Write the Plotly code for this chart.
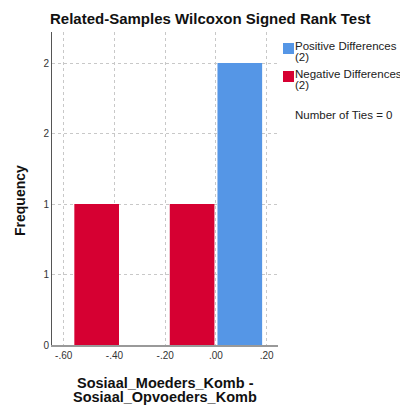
import plotly.graph_objects as go

# histogram bins (centres) and counts
pos_x = [0.094]
pos_y = [2]
neg_x = [-0.47, -0.094]
neg_y = [1, 1]
bin_width = 0.176

x_ticks = [-0.6, -0.4, -0.2, 0.0, 0.2]
x_ticklabels = ["-.60", "-.40", "-.20", ".00", ".20"]
y_ticks = [0, 0.5, 1, 1.5, 2]
y_ticklabels = ["0", "1", "1", "2", "2"]

# the page puts the figure 8px in from the top-left corner of the window
OFF = 8
W, H = 408 - OFF, 405 - OFF
L, R, T, B = 52 - OFF, 408 - 278, 32 - OFF, 405 - 345
FONT = "Arial, Liberation Sans, sans-serif"
BLUE = "#5596e6"
RED = "#d60032"


# window pixel -> paper coordinate
def px_x(p):
    return (p - OFF - L) / (W - L - R)


def px_y(p):
    return (H - B - (p - OFF)) / (H - T - B)


fig = go.Figure()
fig.add_trace(go.Bar(x=pos_x, y=pos_y, width=bin_width, marker=dict(color=BLUE, line_width=0),
                     name="Positive Differences"))
fig.add_trace(go.Bar(x=neg_x, y=neg_y, width=bin_width, marker=dict(color=RED, line_width=0),
                     name="Negative Differences"))

grid = dict(showgrid=True, gridcolor="#c8c8c8", griddash="3px,3px", gridwidth=1)

fig.update_layout(
    width=W, height=H,
    margin=dict(l=L, r=R, t=T, b=B, autoexpand=False),
    plot_bgcolor="white", paper_bgcolor="white",
    showlegend=False,
    font=dict(family=FONT, color="#333333", size=11),
    xaxis=dict(range=[-0.646, 0.2445], tickvals=x_ticks, ticktext=x_ticklabels,
               zeroline=False, showline=True, linecolor="#999999", linewidth=2,
               ticks="", tickfont=dict(size=10, color="#333333"), **grid),
    yaxis=dict(range=[0, 2.22], tickvals=y_ticks, ticktext=y_ticklabels,
               zeroline=False, showline=True, linecolor="#555555", linewidth=1,
               ticks="", tickfont=dict(size=10, color="#333333"), **grid),
)

ann = []
ann.append(dict(xref="paper", yref="paper", x=px_x(210), y=px_y(18),
                text="<b>Related-Samples Wilcoxon Signed Rank Test</b>",
                showarrow=False, xanchor="center", yanchor="middle",
                font=dict(size=15, color="#111111")))
# axis titles
ann.append(dict(xref="paper", yref="paper", x=px_x(20), y=px_y(201), text="<b>Frequency</b>",
                textangle=-90, showarrow=False, xanchor="center", yanchor="middle",
                font=dict(size=14, color="#111111")))
ann.append(dict(xref="paper", yref="paper", x=px_x(165), y=px_y(383), text="<b>Sosiaal_Moeders_Komb -</b>",
                showarrow=False, xanchor="center", yanchor="middle",
                font=dict(size=14.5, color="#111111")))
ann.append(dict(xref="paper", yref="paper", x=px_x(165), y=px_y(397), text="<b>Sosiaal_Opvoeders_Komb</b>",
                showarrow=False, xanchor="center", yanchor="middle",
                font=dict(size=14.5, color="#111111")))

# legend
legend_rows = [("Positive Differences", 46), ("(2)", 57), ("Negative Differences", 74), ("(2)", 85),
               ("Number of Ties = 0", 115)]
for txt, yy in legend_rows:
    ann.append(dict(xref="paper", yref="paper", x=px_x(295), y=px_y(yy), text=txt,
                    showarrow=False, xanchor="left", yanchor="middle", xshift=-2,
                    font=dict(size=11.5, color="#222222")))
fig.update_layout(annotations=ann)

for col, top in [(BLUE, 43), (RED, 71)]:
    fig.add_shape(type="rect", xref="paper", yref="paper",
                  x0=px_x(283), x1=px_x(294), y0=px_y(top), y1=px_y(top + 11),
                  fillcolor=col, line_width=0)

fig.write_html("out.html")
